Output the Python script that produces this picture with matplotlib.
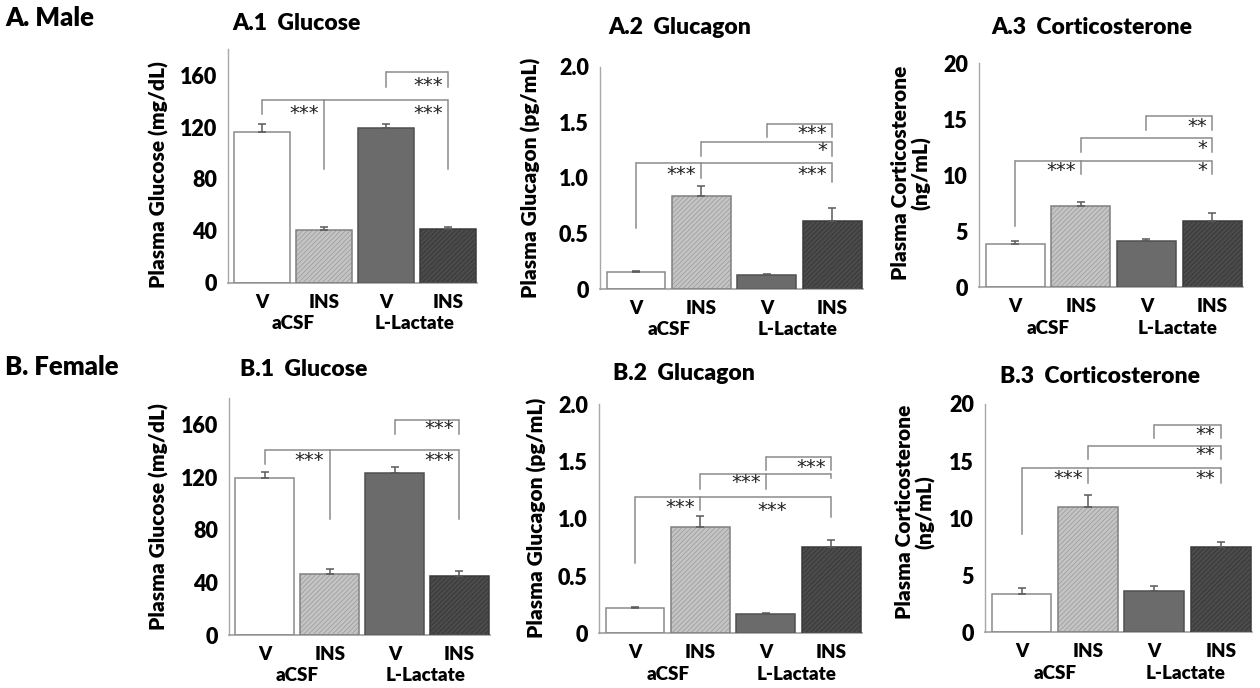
import matplotlib
matplotlib.use("Agg")
import matplotlib.pyplot as plt

plt.rcParams['font.family'] = ['Lato', 'DejaVu Sans']
plt.rcParams['hatch.linewidth'] = 0.5

W, H = 1260, 688
WT = 800

# ---------------- data ----------------
groups = ["V", "INS", "V", "INS"]
group_labels = ["aCSF", "L-Lactate"]

glucose_male = [116, 40.5, 119.5, 41.5]
glucose_male_sem = [6, 2.5, 2.5, 1.5]
glucagon_male = [0.155, 0.84, 0.125, 0.61]
glucagon_male_sem = [0.01, 0.09, 0.008, 0.12]
cort_male = [3.85, 7.3, 4.1, 5.95]
cort_male_sem = [0.3, 0.35, 0.25, 0.65]

glucose_female = [119.5, 46, 123, 45]
glucose_female_sem = [4.5, 4.5, 4.5, 3.5]
glucagon_female = [0.223, 0.93, 0.168, 0.756]
glucagon_female_sem = [0.008, 0.09, 0.007, 0.058]
cort_female = [3.35, 11.0, 3.64, 7.5]
cort_female_sem = [0.5, 1.0, 0.44, 0.43]

# significance brackets: (height, bar indices, drop ends)
brackets_A1 = [(162.5, [2, 3], [151, 151]), (141, [0, 1, 3], [130, 88, 88])]
stars_A1 = [("***", 3, 152), ("***", 1, 130), ("***", 3, 130)]
brackets_A2 = [(1.485, [2, 3], [1.37, 1.37]), (1.32, [1, 3], [1.20, 1.20]),
               (1.13, [0, 1, 3], [0.55, 1.00, 0.96])]
stars_A2 = [("***", 3, 1.40), ("*", 3, 1.25), ("***", 1, 1.03), ("***", 3, 1.03)]
brackets_A3 = [(15.3, [2, 3], [14.05, 14.05]), (13.3, [1, 3], [12.1, 12.1]),
               (11.3, [0, 1, 3], [5.45, 10.1, 10.1])]
stars_A3 = [("**", 3, 14.35), ("*", 3, 12.4), ("***", 1, 10.4), ("*", 3, 10.4)]

brackets_B1 = [(163.5, [2, 3], [153, 153]), (140.4, [0, 1, 3], [129.8, 88, 88])]
stars_B1 = [("***", 3, 157), ("***", 1, 132.8), ("***", 3, 132.8)]
brackets_B2 = [(1.54, [2, 3], [1.425, 1.425]), (1.387, [1, 2, 3], [1.26, 1.26, 1.36]),
               (1.19, [0, 1, 3], [0.61, 1.076, 1.017])]
stars_B2 = [("***", 3, 1.45), ("***", 2, 1.314), ("***", 1, 1.10), ("***", 2.4, 1.07)]
brackets_B3 = [(18.2, [2, 3], [17.04, 17.04]), (16.34, [1, 3], [15.17, 15.17]),
               (14.41, [0, 1, 3], [8.58, 13.1, 13.1])]
stars_B3 = [("**", 3, 17.35), ("**", 3, 15.6), ("***", 1, 13.5), ("**", 3, 13.5)]

face_colors = ["white", "#c4c4c4", "#6b6b6b", "#4b4b4b"]
hatch_colors = [None, "#999999", None, "#333333"]
edge_colors = ["#8a8a8a", "#808080", "#505050", "#3a3a3a"]

fig = plt.figure(figsize=(W / 100, H / 100), dpi=100)


def make_ax(l, r, b, t):
    return fig.add_axes([l / W, 1 - b / H, (r - l) / W, (b - t) / H])


def panel(box, vals, sems, ylim, yticks, yticklabels, brackets, stars,
          title, title_xy, ylabel, ylabel_xy, ylabel_size=15):
    ax = make_ax(*box)
    x = list(range(len(vals)))
    for i in x:
        if hatch_colors[i] is not None:
            ax.bar(i, vals[i], width=0.9, color=face_colors[i],
                   edgecolor=hatch_colors[i], linewidth=0, hatch="///////", zorder=2)
        else:
            ax.bar(i, vals[i], width=0.9, color=face_colors[i], linewidth=0, zorder=2)
        ax.bar(i, vals[i], width=0.9, fill=False, edgecolor=edge_colors[i],
               linewidth=1.1, zorder=3)
    ax.errorbar(x, vals, yerr=[[0] * len(vals), sems], fmt="none",
                ecolor="#5a5a5a", elinewidth=1.1, capsize=3, capthick=1.1, zorder=4)
    ax.set_xlim(-0.55, 3.47)
    ax.set_ylim(*ylim)
    ax.set_yticks(yticks)
    ax.set_yticklabels(yticklabels, fontsize=15.5, fontweight=WT)
    ax.tick_params(axis="y", length=0, pad=8)
    ax.set_xticks([])
    for s in ["top", "right"]:
        ax.spines[s].set_visible(False)
    ax.spines["left"].set_color("#a8a8a8")
    ax.spines["bottom"].set_color("#a0a0a0")
    ax.spines["left"].set_linewidth(1.0)
    ax.spines["bottom"].set_linewidth(1.2)
    for i, g in enumerate(groups):
        ax.annotate(g, xy=(i, 0), xycoords=("data", "axes fraction"),
                    xytext=(0, -14), textcoords="offset points",
                    ha="center", va="center", fontsize=13.5, fontweight=WT)
    for xpos, g in zip([0.5, 2.47], group_labels):
        ax.annotate(g, xy=(xpos, 0), xycoords=("data", "axes fraction"),
                    xytext=(0, -29.5), textcoords="offset points",
                    ha="center", va="center", fontsize=13.5, fontweight=WT)
    for (h, idx, ends) in brackets:
        ax.plot([idx[0], idx[-1]], [h, h], color="#8c8c8c", lw=1.1,
                solid_capstyle="butt", zorder=5)
        for i, e in zip(idx, ends):
            ax.plot([i, i], [h, e], color="#8c8c8c", lw=1.1, zorder=5)
    for (txt, xi, y) in stars:
        ax.text(xi - 0.08, y, txt, ha="right", va="center", fontsize=14,
                family="DejaVu Sans", color="#222222", zorder=6)
    fig.text(title_xy[0] / W, 1 - title_xy[1] / H, title, ha="center",
             va="baseline", fontsize=16.5, fontweight=WT)
    fig.text(ylabel_xy[0] / W, 1 - ylabel_xy[1] / H, ylabel, ha="center",
             va="center", rotation=90, fontsize=ylabel_size, fontweight=WT,
             linespacing=1.1)
    return ax


glu_ticks = [0, 40, 80, 120, 160]
gcg_ticks = [0, 0.5, 1.0, 1.5, 2.0]
gcg_labels = ["0", "0.5", "1.0", "1.5", "2.0"]
cort_ticks = [0, 5, 10, 15, 20]

panel((228, 477, 283, 49), glucose_male, glucose_male_sem, (0, 180), glu_ticks,
      [str(t) for t in glu_ticks], brackets_A1, stars_A1,
      "A.1  Glucose", (296, 30), "Plasma Glucose (mg/dL)", (159, 175))
panel((600, 863, 289, 66.7), glucagon_male, glucagon_male_sem, (0, 2.0), gcg_ticks,
      gcg_labels, brackets_A2, stars_A2,
      "A.2  Glucagon", (680, 34), "Plasma Glucagon (pg/mL)", (531, 178))
panel((979, 1243, 287.3, 63.3), cort_male, cort_male_sem, (0, 20), cort_ticks,
      [str(t) for t in cort_ticks], brackets_A3, stars_A3,
      "A.3  Corticosterone", (1092, 34), "Plasma Corticosterone\n(ng/mL)", (911, 173))

panel((229, 490, 635, 398), glucose_female, glucose_female_sem, (0, 180), glu_ticks,
      [str(t) for t in glu_ticks], brackets_B1, stars_B1,
      "B.1  Glucose", (304, 376), "Plasma Glucose (mg/dL)", (159, 517))
panel((599, 862, 633.3, 404.2), glucagon_female, glucagon_female_sem, (0, 2.0), gcg_ticks,
      gcg_labels, brackets_B2, stars_B2,
      "B.2  Glucagon", (684, 380), "Plasma Glucagon (pg/mL)", (537, 518))
panel((985, 1252, 632.3, 404), cort_female, cort_female_sem, (0, 20), cort_ticks,
      [str(t) for t in cort_ticks], brackets_B3, stars_B3,
      "B.3  Corticosterone", (1100, 383), "Plasma Corticosterone\n(ng/mL)", (915, 512))

fig.text(5 / W, 1 - 26 / H, "A. Male", ha="left", va="baseline", fontsize=18.5,
         fontweight=WT)
fig.text(5 / W, 1 - 375 / H, "B. Female", ha="left", va="baseline", fontsize=18.5,
         fontweight=WT)

fig.savefig("out.png", dpi=100)
